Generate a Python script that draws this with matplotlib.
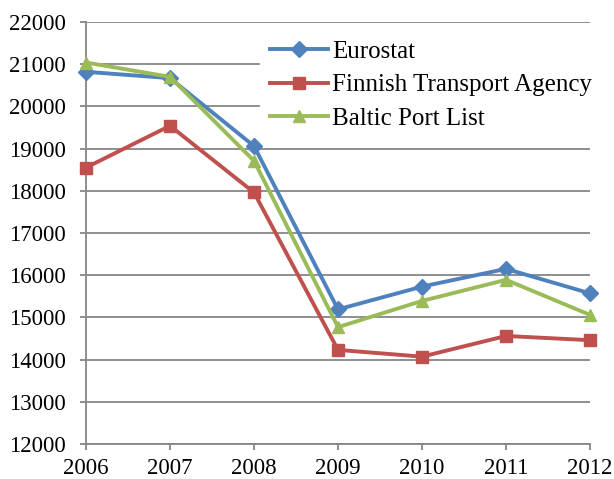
import matplotlib

matplotlib.use("Agg")
import matplotlib.pyplot as plt

years = [2006, 2007, 2008, 2009, 2010, 2011, 2012]
eurostat = [20820, 20670, 19060, 15190, 15730, 16150, 15570]
finnish = [18550, 19540, 17960, 14230, 14070, 14560, 14460]
baltic = [21040, 20700, 18710, 14770, 15390, 15890, 15060]

series = [
    ("Eurostat", eurostat, "#4F81BD", "D", 8),
    ("Finnish Transport Agency", finnish, "#C0504D", "s", 9),
    ("Baltic Port List", baltic, "#9BBB59", "^", 9),
]

plt.rcParams["font.family"] = ["Liberation Serif", "DejaVu Serif"]
plt.rcParams["font.size"] = 16

fig = plt.figure(figsize=(6.14, 4.79), dpi=100)
ax = fig.add_axes([86 / 614, 1 - 444 / 479, (590 - 86) / 614, (444 - 22) / 479])

for name, vals, color, marker, ms in series:
    ax.plot(years, vals, color=color, marker=marker, markersize=ms, linewidth=2.8, label=name,
            markeredgecolor=color, clip_on=False, zorder=3)

ax.set_xlim(2006, 2012)
ax.set_ylim(12000, 22000)
ax.set_yticks(range(12000, 22001, 1000))
ax.set_xticks(years)
ax.grid(True, axis="y", color="#868686", linewidth=1.3)
ax.set_axisbelow(True)
for side in ["top", "right"]:
    ax.spines[side].set_visible(False)
for side in ["left", "bottom"]:
    ax.spines[side].set_color("#868686")
    ax.spines[side].set_linewidth(1.3)
ax.tick_params(axis="both", colors="#868686", labelcolor="black", length=4.3, width=1.3, labelsize=16.5)
ax.tick_params(axis="y", pad=10)
ax.tick_params(axis="x", pad=6)

leg = fig.legend(loc="upper left", bbox_to_anchor=(260 / 614, 1 - 30 / 479), borderaxespad=0,
                 frameon=True, fancybox=False, edgecolor="white", facecolor="white", framealpha=1,
                 handlelength=2.3, handletextpad=0.2, labelspacing=0.45, borderpad=0.4, fontsize=18)

fig.savefig("out.png", dpi=100)
